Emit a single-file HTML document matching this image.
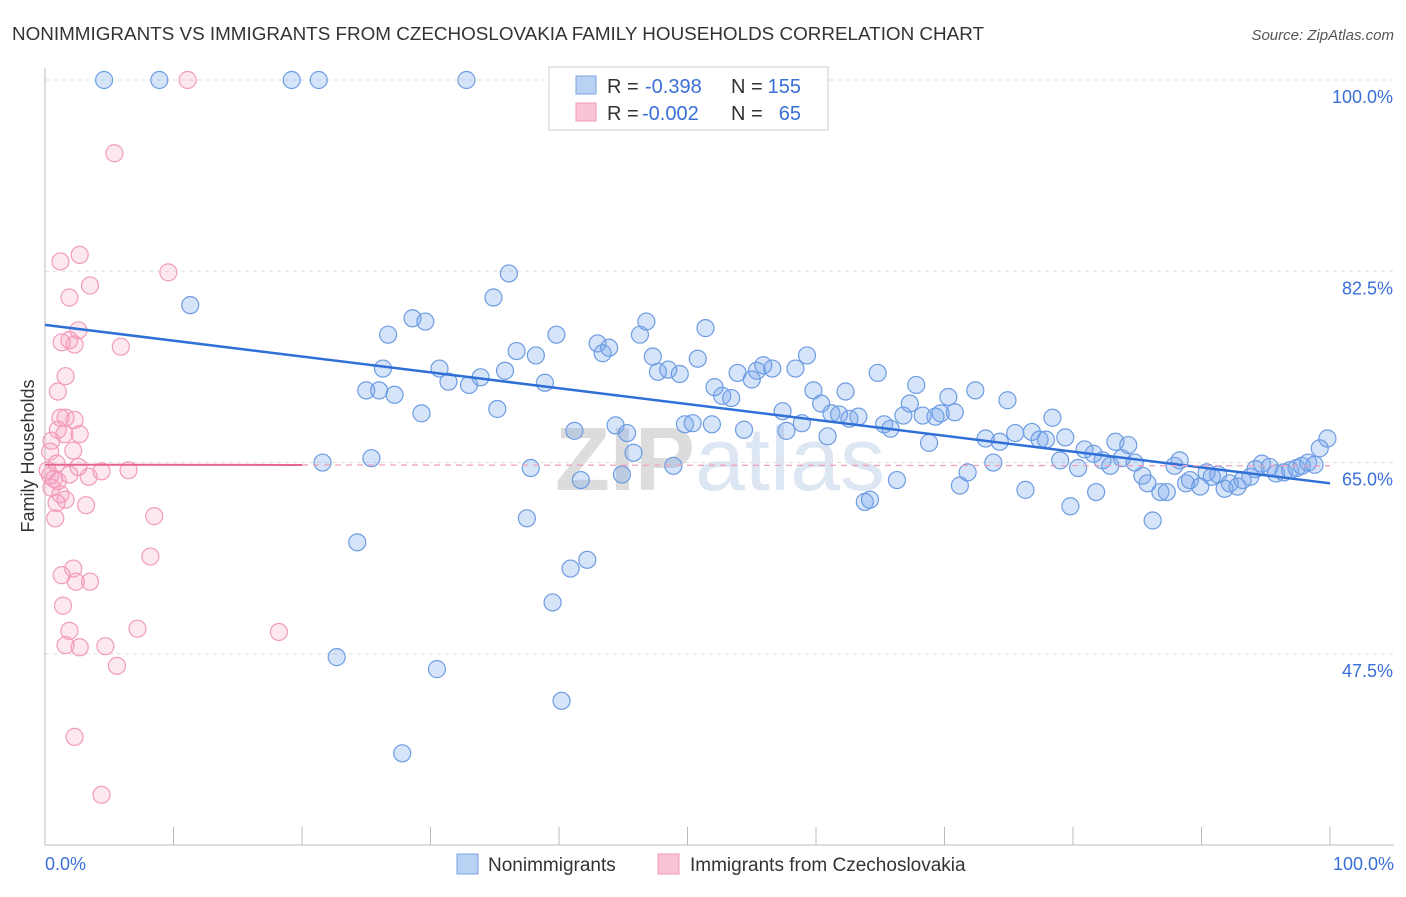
<!DOCTYPE html>
<html><head><meta charset="utf-8">
<style>
body{margin:0;background:#fff;font-family:"Liberation Sans",sans-serif;}
svg text{font-family:"Liberation Sans",sans-serif;}
</style></head>
<body>
<svg id="chart" width="1406" height="892" xmlns="http://www.w3.org/2000/svg">
<text x="12" y="40" font-size="18" fill="#333" textLength="972" lengthAdjust="spacingAndGlyphs">NONIMMIGRANTS VS IMMIGRANTS FROM CZECHOSLOVAKIA FAMILY HOUSEHOLDS CORRELATION CHART</text>
<text x="1394" y="40" font-size="15" fill="#555" text-anchor="end" font-style="italic">Source: ZipAtlas.com</text>
<text x="720" y="490" font-size="90" fill="#e4e4e4" text-anchor="middle" font-family="Liberation Serif"><tspan font-weight="bold" fill="#dcdcdc">ZIP</tspan><tspan fill="#dde6f3" font-family="Liberation Sans">atlas</tspan></text>
<g id="grid"></g>
<g id="axes"></g>
<g id="pts"></g>
<g id="trend"></g>
<text transform="translate(34,456) rotate(-90)" font-size="18" fill="#333" text-anchor="middle">Family Households</text>
<g>
<rect x="549" y="67" width="279" height="63" fill="#fff" stroke="#ccc"/>
<rect x="576" y="76" width="20" height="18" fill="#b9d1f3" stroke="#7aa3e0"/>
<rect x="576" y="103" width="20" height="18" fill="#f9c4d5" stroke="#f09ab8"/>
<text x="607" y="93" font-size="20" fill="#333">R =</text>
<text x="645" y="93" font-size="20" fill="#3a6fd8">-0.398</text>
<text x="731" y="93" font-size="20" fill="#333">N =</text>
<text x="801" y="93" font-size="20" fill="#3a6fd8" text-anchor="end">155</text>
<text x="607" y="120" font-size="20" fill="#333">R =</text>
<text x="642" y="120" font-size="20" fill="#3a6fd8">-0.002</text>
<text x="731" y="120" font-size="20" fill="#333">N =</text>
<text x="801" y="120" font-size="20" fill="#3a6fd8" text-anchor="end">65</text>
</g>
<g>
<rect x="457" y="854" width="21" height="20" fill="#b9d1f3" stroke="#7aa3e0"/>
<text x="488" y="871" font-size="19" fill="#333">Nonimmigrants</text>
<rect x="658" y="854" width="21" height="20" fill="#f9c4d5" stroke="#f09ab8"/>
<text x="690" y="871" font-size="19" fill="#333">Immigrants from Czechoslovakia</text>
</g>
</svg>
<script>
const yTicks=[100,82.5,65,47.5];
const yTickLabels=["100.0%","82.5%","65.0%","47.5%"];
const xTickVals=[0,10,20,30,40,50,60,70,80,90,100];
const blueX=[4.6,8.9,19.2,21.3,32.8,11.3,36.1,34.9,21.6,25.4,24.3,22.7,30.5,27.8,40.2,39.5,40.9,42.2,37.5,37.8,41.7,44.9,45.8,48.9,26.7,28.6,29.6,25.0,26.0,27.2,29.3,26.3,30.7,31.4,33.0,33.9,35.8,35.2,36.7,38.2,38.9,39.8,41.2,43.0,43.4,43.9,44.4,45.3,46.3,46.8,47.3,47.7,48.5,49.4,49.8,50.4,50.8,51.4,51.9,52.1,52.7,53.4,53.9,54.4,55.0,55.4,55.9,56.6,57.4,57.7,58.4,58.9,59.3,59.8,60.4,60.9,61.2,61.8,62.3,62.6,63.3,63.8,64.2,64.8,65.3,65.8,66.3,66.8,67.3,67.8,68.3,68.8,69.3,69.7,70.3,70.8,71.2,71.8,72.4,73.2,73.8,74.3,74.9,75.5,76.3,76.8,77.4,77.9,78.4,79.0,79.4,79.8,80.4,80.9,81.6,81.8,82.3,82.9,83.3,83.8,84.3,84.8,85.4,85.8,86.2,86.8,87.3,87.9,88.3,88.8,89.1,89.9,90.4,90.8,91.3,91.8,92.2,92.8,93.2,93.8,94.2,94.7,95.3,95.8,96.4,96.9,97.4,97.8,98.3,98.8,99.2,99.8];
const blueY=[100,100,100,100,100,79.4,82.3,80.1,65.0,65.4,57.7,47.2,46.1,38.4,43.2,52.2,55.3,56.1,59.9,64.5,63.4,63.9,65.9,64.7,76.7,78.2,77.9,71.6,71.6,71.2,69.5,73.6,73.6,72.4,72.1,72.8,73.4,69.9,75.2,74.8,72.3,76.7,67.9,75.9,75.0,75.5,68.4,67.7,76.7,77.9,74.7,73.3,73.5,73.1,68.5,68.6,74.5,77.3,68.5,71.9,71.1,70.9,73.2,68.0,72.6,73.4,73.9,73.6,69.7,67.9,73.6,68.6,74.8,71.6,70.4,67.4,69.5,69.4,71.5,69.0,69.2,61.4,61.6,73.2,68.5,68.1,63.4,69.3,70.4,72.1,69.3,66.8,69.2,69.5,71.0,69.6,62.9,64.1,71.6,67.2,65.0,66.9,70.7,67.7,62.5,67.8,67.1,67.1,69.1,65.2,67.3,61.0,64.5,66.2,65.8,62.3,65.2,64.7,66.9,65.4,66.6,65.0,63.8,63.1,59.7,62.3,62.3,64.7,65.2,63.1,63.4,62.8,64.1,63.7,63.9,62.6,63.1,62.8,63.4,63.7,64.4,64.9,64.6,64.0,64.1,64.3,64.5,64.7,65.0,64.8,66.3,67.2];
const pinkX=[11.1,5.4,2.7,1.2,9.6,3.5,1.9,2.6,1.3,2.3,5.9,1.6,1.0,1.2,1.6,2.3,2.7,1.5,2.2,0.5,0.4,0.9,2.6,4.4,6.5,3.4,0.4,0.7,1.0,0.5,1.2,3.2,0.9,0.8,8.5,8.2,2.2,1.3,2.4,3.5,1.4,1.9,7.2,18.2,1.6,2.7,4.7,5.6,2.3,4.4,1.9,0.2,1.6,1.0,1.9];
const pinkY=[100,93.3,84.0,83.4,82.4,81.2,80.1,77.1,76.0,75.8,75.6,72.9,71.5,69.1,69.1,68.9,67.6,67.6,66.1,67.0,66.0,64.9,64.6,64.2,64.3,63.7,63.8,63.5,63.3,62.7,62.1,61.1,61.3,59.9,60.1,56.4,55.3,54.7,54.1,54.1,51.9,49.6,49.8,49.5,48.3,48.1,48.2,46.4,39.9,34.6,63.9,64.3,61.6,68.0,76.2];
const blueTrend=[77.6,63.1];
const pinkTrend=[64.8,64.7];

const NS="http://www.w3.org/2000/svg";
const X0=45,X1=1330,Y100=80,PX_PER=10.93;
function sx(v){return X0+(X1-X0)*v/100;}
function sy(v){return Y100+(100-v)*PX_PER;}
function mk(tag,attrs,parent){const e=document.createElementNS(NS,tag);for(const k in attrs)e.setAttribute(k,attrs[k]);parent.appendChild(e);return e;}
const grid=document.getElementById('grid'),axes=document.getElementById('axes'),pts=document.getElementById('pts'),trend=document.getElementById('trend');
yTicks.forEach((t,i)=>{
  const l=mk('line',{x1:45,x2:1394,y1:sy(t),y2:sy(t),stroke:'#ddd','stroke-dasharray':'4,4'},grid);
  
  
  const tx=mk('text',{x:1393,y:sy(t)+23,'font-size':18,fill:'#3a6fd8','text-anchor':'end'},axes);
  tx.textContent=yTickLabels[i];
  
  
});
const ax=mk('line',{x1:45,x2:1394,y1:845,y2:845,stroke:'#bbb'},axes);


const ay=mk('line',{x1:45,x2:45,y1:68,y2:845,stroke:'#bbb'},axes);


xTickVals.forEach(v=>{
  const t=mk('line',{x1:sx(v),x2:sx(v),y1:827,y2:845,stroke:'#bbb'},axes);
  
  
});
const xl0=mk('text',{x:45,y:870,'font-size':18,fill:'#3a6fd8'},axes);xl0.textContent='0.0%';


const xl1=mk('text',{x:1394,y:870,'font-size':18,fill:'#3a6fd8','text-anchor':'end'},axes);xl1.textContent='100.0%';


pinkX.forEach((x,i)=>{
  const c=mk('circle',{cx:sx(x),cy:sy(pinkY[i]),r:8.5,fill:'rgba(244,150,185,0.22)',stroke:'#f29bbb','stroke-width':1.2},pts);
  
  
});
blueX.forEach((x,i)=>{
  const c=mk('circle',{cx:sx(x),cy:sy(blueY[i]),r:8.5,fill:'rgba(120,165,235,0.3)',stroke:'#6d9ce3','stroke-width':1.2},pts);
  
  
});
const bt=mk('line',{x1:sx(0),y1:sy(blueTrend[0]),x2:sx(100),y2:sy(blueTrend[1]),stroke:'#2f6fd6','stroke-width':2.5},trend);


const pd=mk('line',{x1:sx(20),y1:sy(pinkTrend[0]+(pinkTrend[1]-pinkTrend[0])*0.2),x2:sx(100),y2:sy(pinkTrend[1]),stroke:'#f0a0bc','stroke-width':1.3,'stroke-dasharray':'6,5'},trend);


const pt=mk('line',{x1:sx(0),y1:sy(pinkTrend[0]),x2:sx(20),y2:sy(pinkTrend[0]+(pinkTrend[1]-pinkTrend[0])*0.2),stroke:'#e8648f','stroke-width':2},trend);


</script>
</body></html>
